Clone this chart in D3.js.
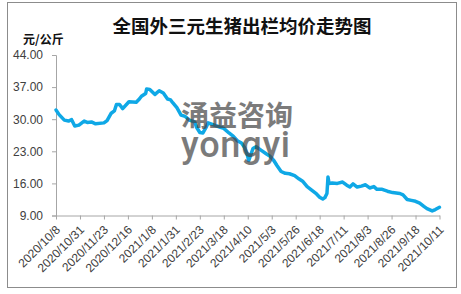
<!DOCTYPE html>
<html>
<head>
<meta charset="utf-8">
<script src="https://cdn.jsdelivr.net/npm/d3@7"></script>
<style>
  html, body { margin: 0; padding: 0; background: #fff; }
  svg { display: block; }
</style>
</head>
<body>
<div id="chart"></div>
<script>
// readings (date, yuan per kg)
const dates = [
  "2020-10-08","2020-10-11","2020-10-16","2020-10-20","2020-10-23","2020-10-26","2020-10-30",
  "2020-11-04","2020-11-07","2020-11-11","2020-11-15","2020-11-23","2020-11-26","2020-11-30",
  "2020-12-03","2020-12-05","2020-12-08","2020-12-11","2020-12-17","2020-12-24","2020-12-27",
  "2020-12-29","2021-01-02","2021-01-03","2021-01-06","2021-01-11","2021-01-15","2021-01-19",
  "2021-01-23","2021-01-26","2021-01-28","2021-02-01","2021-02-05","2021-02-09","2021-02-13",
  "2021-02-18","2021-02-20","2021-02-23","2021-02-26","2021-03-01","2021-03-03","2021-03-09",
  "2021-03-14","2021-03-18","2021-03-23","2021-03-27","2021-03-31","2021-04-04","2021-04-07",
  "2021-04-09","2021-04-11","2021-04-13","2021-04-15","2021-04-18","2021-04-23","2021-04-28",
  "2021-05-01","2021-05-05","2021-05-08","2021-05-12","2021-05-16","2021-05-20","2021-05-25",
  "2021-05-29","2021-06-02","2021-06-06","2021-06-10","2021-06-15","2021-06-18","2021-06-21",
  "2021-06-23","2021-06-25","2021-06-26","2021-06-27","2021-06-30","2021-07-05","2021-07-10",
  "2021-07-14","2021-07-17","2021-07-20","2021-07-24","2021-07-28","2021-08-01","2021-08-05",
  "2021-08-09","2021-08-12","2021-08-17","2021-08-22","2021-08-27","2021-09-03","2021-09-06",
  "2021-09-10","2021-09-14","2021-09-18","2021-09-22","2021-09-26","2021-09-29","2021-10-04",
  "2021-10-07","2021-10-11"
];
const prices = [
  32.0, 31.0, 29.8, 29.6, 29.9, 28.5, 28.7,
  29.6, 29.3, 29.4, 29.0, 29.2, 29.7, 31.3,
  31.8, 33.2, 33.2, 32.3, 33.8, 33.7, 34.4,
  35.0, 35.6, 36.6, 36.5, 35.4, 36.2, 35.7,
  34.4, 34.2, 33.6, 32.5, 30.9, 30.6, 29.8,
  29.4, 28.2, 27.1, 27.0, 28.2, 29.2, 28.7,
  28.3, 28.0, 27.0, 26.3, 25.3, 24.8, 23.8,
  22.7, 21.0, 22.3, 23.6, 24.0, 23.2, 22.4,
  22.0, 21.0, 19.9, 18.6, 18.2, 18.1, 17.7,
  17.0, 16.4, 15.3, 14.6, 13.7, 13.0, 12.6,
  12.9, 13.8, 17.4, 16.0, 16.1, 16.0, 16.3,
  15.6, 15.2, 15.9, 15.2, 15.4, 15.7, 15.0,
  15.3, 14.7, 14.7, 14.3, 14.0, 13.8, 13.5,
  12.5, 12.3, 12.1, 11.7, 11.0, 10.5, 10.0,
  10.3, 10.8
];
const tickLabels = [
  "2020/10/8","2020/10/31","2020/11/23","2020/12/16","2021/1/8","2021/1/31",
  "2021/2/23","2021/3/18","2021/4/10","2021/5/3","2021/5/26","2021/6/18",
  "2021/7/11","2021/8/3","2021/8/26","2021/9/18","2021/10/11"
];
const yTicks = [9, 16, 23, 30, 37, 44];

const width = 461;
const height = 294;
const margin = { top: 55, right: 21.5, bottom: 78.5, left: 56 };

const parseDay = d3.timeParse("%Y-%m-%d");
const parseTick = d3.timeParse("%Y/%m/%d");
const series = dates.map((d, i) => ({ date: parseDay(d), value: prices[i] }));

const svg = d3.select("#chart")
  .append("svg")
  .attr("width", width)
  .attr("height", height);

// outer frame
svg.append("rect")
  .attr("x", 7.5)
  .attr("y", 2.5)
  .attr("width", 449)
  .attr("height", 285)
  .attr("fill", "#fff")
  .attr("stroke", "#8c8c8c")
  .attr("stroke-width", 1);

const x = d3.scaleTime()
  .domain([parseTick(tickLabels[0]), parseTick(tickLabels[tickLabels.length - 1])])
  .range([margin.left, width - margin.right]);

const y = d3.scaleLinear()
  .domain([yTicks[0], yTicks[yTicks.length - 1]])
  .range([height - margin.bottom, margin.top]);

// title + unit
svg.append("text")
  .attr("x", 242)
  .attr("y", 33)
  .attr("text-anchor", "middle")
  .style("font-family", "'Noto Sans CJK SC', sans-serif")
  .style("font-weight", "bold")
  .style("font-size", "18.5px")
  .style("fill", "#111")
  .text("全国外三元生猪出栏均价走势图");

svg.append("text")
  .attr("x", 23)
  .attr("y", 44)
  .style("font-family", "'Noto Sans CJK SC', sans-serif")
  .style("font-weight", "bold")
  .style("font-size", "12px")
  .style("fill", "#111")
  .text("元/公斤");

// y axis
const yAxis = d3.axisLeft(y)
  .tickValues(yTicks)
  .tickFormat(d3.format(".2f"))
  .tickSize(4)
  .tickPadding(9);

const gy = svg.append("g")
  .attr("transform", "translate(" + margin.left + ",0)")
  .call(yAxis);

// x axis
const xAxis = d3.axisBottom(x)
  .tickValues(tickLabels.map(parseTick))
  .tickFormat((d, i) => tickLabels[i])
  .tickSize(4)
  .tickSizeOuter(0);

const gx = svg.append("g")
  .attr("transform", "translate(0," + (height - margin.bottom) + ")")
  .call(xAxis);

gx.selectAll("text")
  .attr("text-anchor", "end")
  .attr("x", 0)
  .attr("y", 0)
  .attr("dy", 0)
  .attr("transform", "translate(4.5,15) rotate(-45)");

[gx, gy].forEach(g => {
  g.select(".domain").attr("stroke", "#a6a6a6");
  g.selectAll(".tick line").attr("stroke", "#a6a6a6");
  g.selectAll("text")
    .style("font-family", "'Liberation Sans', Arial, sans-serif")
    .style("font-size", "12px")
    .style("fill", "#404040");
});

// price line
const line = d3.line()
  .x(d => x(d.date))
  .y(d => y(d.value));

svg.append("path")
  .datum(series)
  .attr("fill", "none")
  .attr("stroke", "#0fa8e6")
  .attr("stroke-width", 3.5)
  .attr("stroke-linejoin", "round")
  .attr("stroke-linecap", "round")
  .attr("d", line);

// watermark
const mark = svg.append("g")
  .style("fill", "#444")
  .style("opacity", 0.7);

mark.append("text")
  .attr("x", 181)
  .attr("y", 126)
  .attr("textLength", 112)
  .style("font-family", "'Noto Sans CJK SC', sans-serif")
  .style("font-weight", "bold")
  .style("font-size", "28px")
  .text("涌益咨询");

mark.append("text")
  .attr("x", 181)
  .attr("y", 157)
  .attr("textLength", 109)
  .attr("lengthAdjust", "spacing")
  .style("font-family", "Roboto, sans-serif")
  .style("font-weight", 500)
  .style("font-size", "36px")
  .text("yongyi");
</script>
</body>
</html>
